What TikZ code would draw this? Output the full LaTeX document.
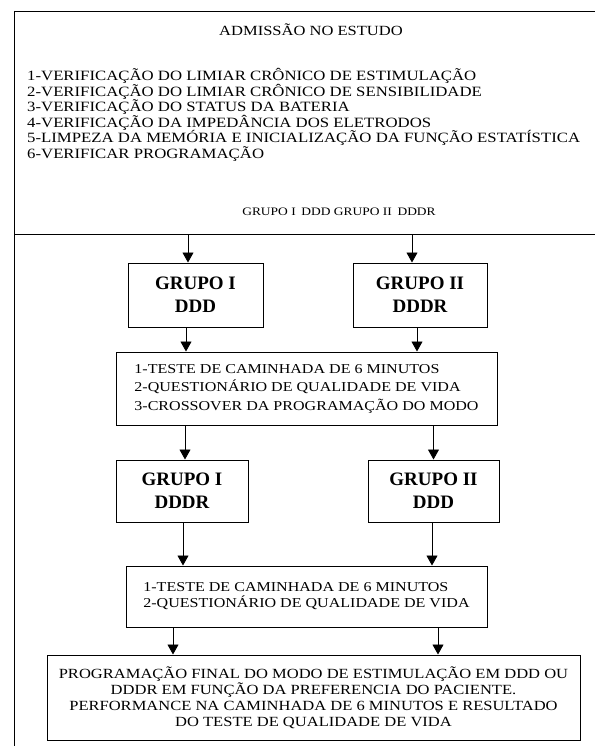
\documentclass[tikz,border=0pt]{standalone}
\usepackage{fontspec}
\setmainfont{Liberation Serif}
\newfontfamily\wideserif{Liberation Serif}[FakeStretch=1.18]
\usetikzlibrary{arrows.meta,positioning,calc}

\begin{document}
\begin{tikzpicture}[x=1pt,y=-1pt,
  arr/.style={-{Triangle[width=11pt,length=10pt]},line width=0.9pt},
  bx/.style={draw,line width=1pt,inner sep=0pt},
  grp/.style={bx,align=center,font=\bfseries\fontsize{19}{23}\selectfont},
  txt/.style={bx,align=left,font=\wideserif\fontsize{13.6}{18.5}\selectfont}]
  \useasboundingbox (0,0) rectangle (594,746);
  % admissao
  \node[bx,anchor=north west,minimum width=581pt,minimum height=223pt] (adm) at (14,11) {};
  \coordinate (fim) at (14,746);
  \draw[line width=1pt] (adm.north west) -- (fim);
  \node[font=\wideserif\fontsize{14}{15.5}\selectfont] (tit) at (311,30) {ADMISSÃO NO ESTUDO};
  \node[anchor=north west,align=left,inner sep=0pt,
    font=\wideserif\fontsize{14.2}{15.5}\selectfont] (lst) at (27,68.5)
    {1-VERIFICAÇÃO DO LIMIAR CRÔNICO DE ESTIMULAÇÃO\\
     2-VERIFICAÇÃO DO LIMIAR CRÔNICO DE SENSIBILIDADE\\
     3-VERIFICAÇÃO DO STATUS DA BATERIA\\
     4-VERIFICAÇÃO DA IMPEDÂNCIA DOS ELETRODOS\\
     5-LIMPEZA DA MEMÓRIA E INICIALIZAÇÃO DA FUNÇÃO ESTATÍSTICA\\
     6-VERIFICAR PROGRAMAÇÃO};
  \node[font=\wideserif\fontsize{11.4}{15.5}\selectfont] (div) at (339,212) {GRUPO I\enspace DDD GRUPO II\enspace DDDR};
  % primeira fase
  \node[grp,minimum width=135pt,minimum height=64pt] (g1a) at (195.5,295) {GRUPO I\\DDD};
  \node[grp,minimum width=134pt,minimum height=64pt] (g2a) at (420,295) {GRUPO II\\DDDR};
  \node[txt,minimum width=381pt,minimum height=73pt] (t2) at (306.5,388.5)
    {1-TESTE DE CAMINHADA DE 6 MINUTOS\\
     2-QUESTIONÁRIO DE QUALIDADE DE VIDA\\
     3-CROSSOVER DA PROGRAMAÇÃO DO MODO};
  % segunda fase
  \node[grp,minimum width=132pt,minimum height=62pt] (g1b) at (182,491) {GRUPO I\\DDDR};
  \node[grp,minimum width=131pt,minimum height=62pt] (g2b) at (433.5,491) {GRUPO II\\DDD};
  \node[txt,minimum width=361pt,minimum height=61pt,
    font=\wideserif\fontsize{13.6}{16}\selectfont] (t3) at (306.5,596.5)
    {1-TESTE DE CAMINHADA DE 6 MINUTOS\\
     2-QUESTIONÁRIO DE QUALIDADE DE VIDA};
  \node[bx,align=center,minimum width=533pt,minimum height=85pt,
    font=\wideserif\fontsize{14}{16}\selectfont] (t4) at (313.5,697.5)
    {PROGRAMAÇÃO FINAL DO MODO DE ESTIMULAÇÃO EM DDD OU\\
     DDDR EM FUNÇÃO DA PREFERENCIA DO PACIENTE.\\
     PERFORMANCE NA CAMINHADA DE 6 MINUTOS E RESULTADO\\
     DO TESTE DE QUALIDADE DE VIDA};
  % setas
  \draw[arr] ([xshift=-7.5pt]g1a.north |- adm.south) -- ([xshift=-7.5pt]g1a.north);
  \draw[arr] ([xshift=-8pt]g2a.north |- adm.south) -- ([xshift=-8pt]g2a.north);
  \draw[arr] ([xshift=-9.5pt]g1a.south) -- ([xshift=-9.5pt]g1a.south |- t2.north);
  \draw[arr] ([xshift=-3pt]g2a.south) -- ([xshift=-3pt]g2a.south |- t2.north);
  \draw[arr] ([xshift=3pt]g1b.north |- t2.south) -- ([xshift=3pt]g1b.north);
  \draw[arr] (g2b.north |- t2.south) -- (g2b.north);
  \draw[arr] ([xshift=1pt]g1b.south) -- ([xshift=1pt]g1b.south |- t3.north);
  \draw[arr] ([xshift=-1.5pt]g2b.south) -- ([xshift=-1.5pt]g2b.south |- t3.north);
  \draw[arr] ([xshift=-9pt]g1b.south |- t3.south) -- ([xshift=-9pt]g1b.south |- t4.north);
  \draw[arr] ([xshift=4.5pt]g2b.south |- t3.south) -- ([xshift=4.5pt]g2b.south |- t4.north);
\end{tikzpicture}
\end{document}
